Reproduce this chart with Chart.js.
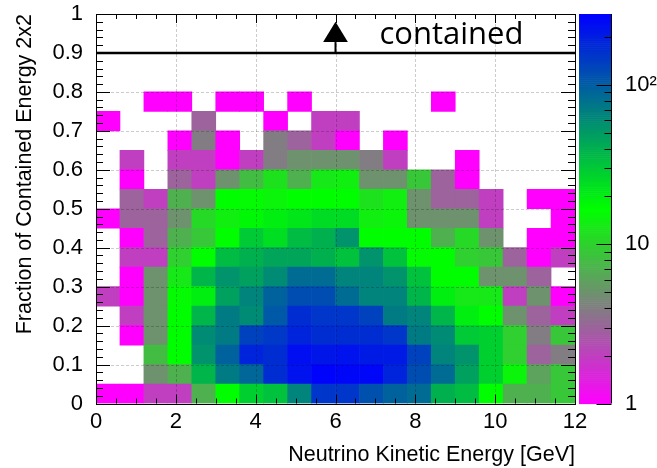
<!DOCTYPE html>
<html><head><meta charset="utf-8">
<script src="https://cdn.jsdelivr.net/npm/chart.js@4"></script>
<style>html,body{margin:0;padding:0;background:#fff;}canvas{display:block;}</style>
</head><body>
<canvas id="c" width="657" height="468"></canvas>
<script>
// ---- data ----
const xCenters = [0.3,0.9,1.5,2.1,2.7,3.3,3.9,4.5,5.1,5.7,6.3,6.9,7.5,8.1,8.7,9.3,9.9,10.5,11.1,11.7];
const yLowEdges = [0,0.05,0.1,0.15,0.2,0.25,0.3,0.35,0.4,0.45,0.5,0.55,0.6,0.65,0.7,0.75];
const yBinWidth = 0.05;
// counts per y-row (row 0 = 0-0.05 ... row 15 = 0.75-0.80), columns follow xCenters
const row00 = [1,1,2,2,7,17,28,33,65,155,155,115,95,85,40,35,17,7,7,9];
const row01 = [0,0,5,7,38,72,90,170,230,270,260,260,190,120,85,48,28,15,6,9];
const row02 = [0,0,8,17,55,95,190,170,240,220,230,210,210,135,65,55,28,10,3,4];
const row03 = [0,1,5,17,60,72,135,150,190,170,170,170,155,72,60,30,28,10,4,9];
const row04 = [0,2,5,17,38,72,60,105,170,155,155,135,72,65,38,20,17,5,3,2];
const row05 = [2,1,5,16,20,48,65,95,120,120,85,65,65,38,20,13,13,2,5,1];
const row06 = [0,1,5,13,38,55,48,60,85,85,65,65,55,33,17,17,5,5,3,0];
const row07 = [0,2,2,10,17,35,40,45,45,40,33,55,33,16,17,10,9,3,1,2];
const row08 = [0,1,3,7,9,17,30,24,35,40,55,17,17,17,7,11,5,0,1,1];
const row09 = [1,3,3,5,11,14,18,20,22,25,25,14,15,5,5,5,2,0,0,1];
const row10 = [0,3,2,7,5,17,16,15,17,17,17,12,14,5,3,3,2,0,1,1];
const row11 = [0,1,0,3,2,5,8,12,7,13,14,5,5,9,3,1,0,0,0,0];
const row12 = [0,2,0,2,2,1,2,4,5,5,5,4,2,0,0,1,0,0,0,0];
const row13 = [0,0,0,1,4,1,0,4,3,2,1,0,1,0,0,0,0,0,0,0];
const row14 = [1,0,0,0,3,0,0,1,0,2,2,0,0,0,0,0,0,0,0,0];
const row15 = [0,0,1,1,0,1,1,0,1,0,0,0,0,0,1,0,0,0,0,0];
const rows = [row00,row01,row02,row03,row04,row05,row06,row07,row08,row09,row10,row11,row12,row13,row14,row15];

const zMin = 1, zMax = 280;
const zMajorTicks = [1, 10, 100];
const zTickLabels = ['1', '10', '10\u00B2'];
const cutValue = 0.9;          // "contained" threshold line
const arrowX = 6, arrowTipY = 0.98, arrowBaseY = 0.928, arrowHalfW = 0.31;
const labelText = 'contained', labelX = 7.1, labelY = 0.923;

// ---- colour map: magenta -> green -> blue on log z ----
function zColor(v) {
  let t = Math.log(v / zMin) / Math.log(zMax / zMin);
  t = Math.max(0, Math.min(1, t));
  let r, g, b;
  if (t < 0.5) { const u = t * 2; r = 255 * (1 - u); g = 255 * u; b = 255 * (1 - u); }
  else { const u = t * 2 - 1; r = 0; g = 255 * (1 - u); b = 255 * u; }
  return 'rgb(' + Math.round(r) + ',' + Math.round(g) + ',' + Math.round(b) + ')';
}

const datasets = rows.map((row, j) => ({
  data: row.map((v, i) => v > 0 ? { x: xCenters[i], y: [yLowEdges[j], yLowEdges[j] + yBinWidth], v: v } : null).filter(Boolean),
  backgroundColor: ctx => zColor(ctx.raw ? ctx.raw.v : 1),
  borderWidth: 0,
  grouped: false,
  barPercentage: 1,
  categoryPercentage: 1
}));

const FONT = 'Liberation Sans, Arial, Helvetica, sans-serif';

function noPad(s) { s.paddingTop = 0; s.paddingBottom = 0; s.paddingLeft = 0; s.paddingRight = 0; }

const rootPlugin = {
  id: 'rootStyle',
  afterDatasetsDraw(chart) {
    const ctx = chart.ctx, xs = chart.scales.x, ys = chart.scales.y, zs = chart.scales.z;
    const a = chart.chartArea;
    ctx.save();
    // grid (dotted, drawn over cells)
    ctx.strokeStyle = 'rgba(0,0,0,0.2)'; ctx.lineWidth = 1; ctx.setLineDash([3, 2]);
    for (let v = 2; v < 12; v += 2) {
      const px = Math.round(xs.getPixelForValue(v)) + 0.5;
      ctx.beginPath(); ctx.moveTo(px, a.top); ctx.lineTo(px, a.bottom); ctx.stroke();
    }
    for (let k = 1; k < 10; k++) {
      const py = Math.round(ys.getPixelForValue(k / 10)) + 0.5;
      ctx.beginPath(); ctx.moveTo(a.left, py); ctx.lineTo(a.right, py); ctx.stroke();
    }
    ctx.setLineDash([]);
    // frame
    ctx.strokeStyle = '#000'; ctx.lineWidth = 1;
    ctx.strokeRect(Math.round(a.left) + 0.5, Math.round(a.top) + 0.5, Math.round(a.right - a.left), Math.round(a.bottom - a.top));
    // x ticks
    for (let k = 0; k <= 24; k++) {
      const px = Math.round(xs.getPixelForValue(k * 0.5)) + 0.5;
      const len = (k % 4 === 0) ? 9 : 5;
      ctx.beginPath();
      ctx.moveTo(px, a.bottom); ctx.lineTo(px, a.bottom - len);
      ctx.moveTo(px, a.top); ctx.lineTo(px, a.top + len);
      ctx.stroke();
    }
    // y ticks
    for (let k = 0; k <= 50; k++) {
      const py = Math.round(ys.getPixelForValue(k * 0.02)) + 0.5;
      const len = (k % 5 === 0) ? 14 : 7;
      ctx.beginPath();
      ctx.moveTo(a.left, py); ctx.lineTo(a.left + len, py);
      ctx.moveTo(a.right, py); ctx.lineTo(a.right - len, py);
      ctx.stroke();
    }
    // threshold line
    const yc = ys.getPixelForValue(cutValue);
    ctx.lineWidth = 2.5;
    ctx.beginPath(); ctx.moveTo(a.left, yc); ctx.lineTo(a.right, yc); ctx.stroke();
    // arrow
    const ax = xs.getPixelForValue(arrowX);
    ctx.lineWidth = 2;
    ctx.beginPath(); ctx.moveTo(ax, yc); ctx.lineTo(ax, ys.getPixelForValue(arrowBaseY)); ctx.stroke();
    ctx.fillStyle = '#000';
    ctx.beginPath();
    ctx.moveTo(xs.getPixelForValue(arrowX - arrowHalfW), ys.getPixelForValue(arrowBaseY));
    ctx.lineTo(xs.getPixelForValue(arrowX + arrowHalfW), ys.getPixelForValue(arrowBaseY));
    ctx.lineTo(ax, ys.getPixelForValue(arrowTipY));
    ctx.closePath(); ctx.fill();
    // label
    ctx.font = '31px "Open Sans", "DejaVu Sans", sans-serif';
    ctx.textAlign = 'left'; ctx.textBaseline = 'alphabetic';
    ctx.fillText(labelText, xs.getPixelForValue(labelX), ys.getPixelForValue(labelY));
    // colour bar
    const cbL = a.right + 4, cbW = 32;
    const zTop = zs.getPixelForValue(zMax), zBot = zs.getPixelForValue(zMin);
    const steps = 200;
    for (let s = 0; s < steps; s++) {
      const v0 = Math.pow(10, Math.log10(zMin) + (Math.log10(zMax) - Math.log10(zMin)) * (s + 0.5) / steps);
      const y0 = zBot - (zBot - zTop) * (s + 1) / steps;
      ctx.fillStyle = zColor(v0);
      ctx.fillRect(cbL, y0, cbW, (zBot - zTop) / steps + 0.6);
    }
    ctx.lineWidth = 1; ctx.strokeStyle = '#000';
    const cbR = Math.round(cbL + cbW) + 0.5;
    ctx.beginPath(); ctx.moveTo(cbR, zTop); ctx.lineTo(cbR, zBot); ctx.stroke();
    for (let dec = 1; dec <= 100; dec *= 10) {
      for (let m = 1; m <= 9; m++) {
        const v = dec * m;
        if (v > zMax) break;
        const py = Math.round(zs.getPixelForValue(v)) + 0.5;
        const len = (m === 1) ? 15 : 7;
        ctx.beginPath(); ctx.moveTo(cbR, py); ctx.lineTo(cbR - len, py); ctx.stroke();
      }
    }
    ctx.restore();
  }
};

new Chart(document.getElementById('c'), {
  type: 'bar',
  data: { datasets: datasets },
  options: {
    responsive: false, animation: false, devicePixelRatio: 1,
    layout: { padding: { top: 14, left: 0, right: 0, bottom: 0 } },
    plugins: { legend: { display: false }, tooltip: { enabled: false } },
    scales: {
      x: {
        type: 'linear', min: 0, max: 12, offset: false,
        grid: { display: false, offset: false }, border: { display: false },
        ticks: { stepSize: 2, padding: -3, color: '#000', maxRotation: 0, autoSkip: false, font: { family: FONT, size: 22 } },
        title: { display: true, text: 'Neutrino Kinetic Energy [GeV]', align: 'end', color: '#000', font: { family: FONT, size: 21.5 }, padding: { top: 0, bottom: 0 } },
        afterFit: s => { s.height = 64.5; noPad(s); }
      },
      y: {
        type: 'linear', min: 0, max: 1,
        grid: { display: false }, border: { display: false },
        ticks: { stepSize: 0.1, padding: 5, color: '#000', autoSkip: false, font: { family: FONT, size: 22 },
                 callback: v => String(Number(v.toFixed(2))) },
        title: { display: true, text: 'Fraction of Contained Energy 2x2', align: 'end', color: '#000', font: { family: FONT, size: 21.5 }, padding: { top: 12, bottom: 0 } },
        afterFit: s => { s.width = 96; noPad(s); }
      },
      z: {
        axis: 'y', type: 'logarithmic', position: 'right', min: zMin, max: zMax,
        grid: { display: false }, border: { display: false },
        ticks: {
          autoSkip: false, padding: 42, color: '#000', font: { family: FONT, size: 22 },
          callback: v => { const i = zMajorTicks.indexOf(v); return i >= 0 ? zTickLabels[i] : ''; }
        },
        afterFit: s => { s.width = 82; noPad(s); }
      }
    }
  },
  plugins: [rootPlugin]
});
</script>
</body></html>
